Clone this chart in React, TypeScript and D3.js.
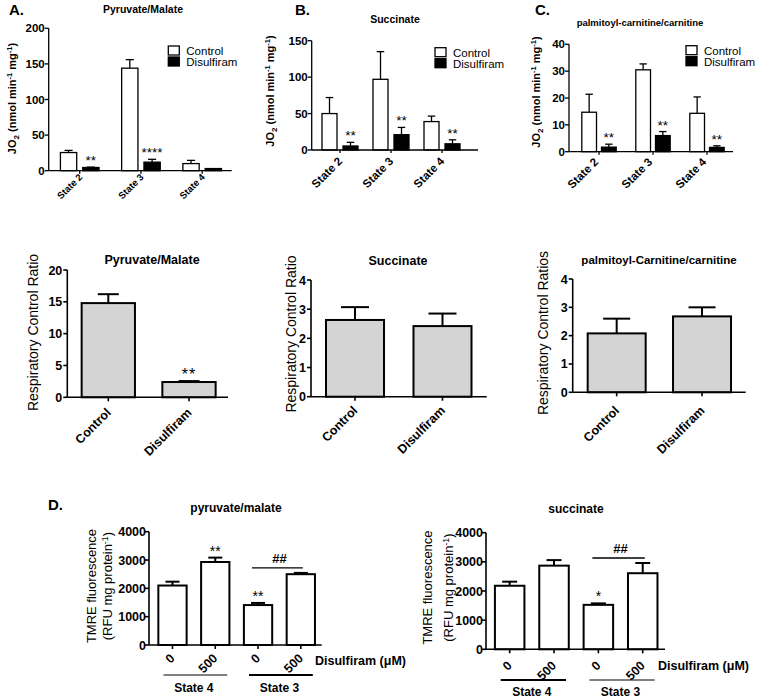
import React from "react";
import * as d3 from "d3";

const FONT = "'Liberation Sans', Arial, Helvetica, sans-serif";

// ---------- Row 1: JO2 by respiratory state ----------
const states = ["State 2", "State 3", "State 4"];
const seriesNames = ["Control", "Disulfiram"];

const pmCtrl = [25.5, 144, 10];
const pmCtrlErr = [3, 12, 4.5];
const pmDis = [4.5, 12, 3];
const pmDisErr = [0.5, 4, 0];
const pmSig = ["**", "****", ""];
const pmTicks = [0, 50, 100, 150, 200];

const sucCtrl = [50, 97, 39];
const sucCtrlErr = [22, 38, 7.5];
const sucDis = [5.5, 21, 8.5];
const sucDisErr = [5, 10, 5.5];
const sucSig = ["**", "**", "**"];
const sucTicks = [0, 50, 100, 150];

const palCtrl = [14.7, 30.5, 14.3];
const palCtrlErr = [6.7, 2.2, 6.1];
const palDis = [1.7, 6, 1.6];
const palDisErr = [1.1, 1.5, 0.6];
const palSig = ["**", "**", "**"];
const palTicks = [0, 10, 20, 30, 40];

// ---------- Row 2: respiratory control ratio ----------
const rcrGroups = ["Control", "Disulfiram"];
const rcrPM = [14.8, 2.4];
const rcrPMErr = [1.4, 0.15];
const rcrPMSig = ["", "**"];
const rcrPMTicks = [0, 5, 10, 15, 20];
const rcrSuc = [2.63, 2.42];
const rcrSucErr = [0.44, 0.43];
const rcrSucSig = ["", ""];
const rcrSucTicks = [0, 1, 2, 3, 4];
const rcrPal = [2.08, 2.68];
const rcrPalErr = [0.52, 0.32];
const rcrPalSig = ["", ""];
const rcrPalTicks = [0, 1, 2, 3, 4];

// ---------- Row 3: TMRE fluorescence ----------
const doseLabels = ["0", "500", "0", "500"];
const doseKeys = ["s4-0", "s4-500", "s3-0", "s3-500"];
const stateGroups = ["State 4", "State 3"];
const tmrePM = [2100, 2930, 1410, 2500];
const tmrePMErr = [135, 155, 75, 45];
const tmrePMSig = ["", "**", "**", ""];
const tmreSuc = [2180, 2870, 1525, 2610];
const tmreSucErr = [140, 190, 50, 350];
const tmreSucSig = ["", "", "*", ""];
const tmreTicks = [0, 1000, 2000, 3000, 4000];
const hashLabel = "##";

function JO2Label({ x, y }: any) {
  return (
    <text transform={`translate(${x},${y}) rotate(-90)`} textAnchor="middle" fontSize={11} fontWeight="bold" fontFamily={FONT}>
      JO<tspan fontSize={8} dy={3}>2</tspan>
      <tspan dy={-3}> (nmol min</tspan>
      <tspan fontSize={7.5} dy={-4}>-1</tspan>
      <tspan dy={4}> mg</tspan>
      <tspan fontSize={7.5} dy={-4}>-1</tspan>
      <tspan dy={4}>)</tspan>
    </text>
  );
}

function GroupedPanel(p: any) {
  const y = d3.scaleLinear().domain([0, p.yMax]).range([p.yBottom, p.yTop]);
  const xg = d3.scaleBand().domain(states).range(p.band).padding(0);
  const half = p.barW + p.gap / 2;
  const xs = d3.scaleBand().domain(seriesNames).range([-half, half]).paddingInner(p.gap / (p.barW + p.gap));
  const vals = [p.ctrl, p.dis];
  const errs = [p.ctrlErr, p.disErr];
  const sw = 1.3;
  return (
    <g fontFamily={FONT}>
      <text x={p.letterX} y={p.letterY} fontSize={15} fontWeight="bold">{p.letter}</text>
      <text x={p.titleX} y={p.titleY} fontSize={p.titleSize} fontWeight="bold" textAnchor="middle">{p.title}</text>
      <JO2Label x={p.ylabX} y={p.ylabY} />
      {states.map((s, i) => {
        const c = (xg(s) as number) + xg.bandwidth() / 2;
        return (
          <g key={s}>
            {seriesNames.map((sn, k) => {
              const bx = c + (xs(sn) as number);
              const v = vals[k][i];
              const e = errs[k][i];
              const cx = bx + p.barW / 2;
              return (
                <g key={sn}>
                  {e > 0 && (
                    <g stroke="#000" strokeWidth={sw}>
                      <line x1={cx} x2={cx} y1={y(v)} y2={y(v + e)} />
                      <line x1={cx - p.barW / 4} x2={cx + p.barW / 4} y1={y(v + e)} y2={y(v + e)} />
                    </g>
                  )}
                  <rect x={bx} y={y(v)} width={p.barW} height={y(0) - y(v)} fill={k === 0 ? "#fff" : "#000"} stroke="#000" strokeWidth={sw} />
                  {k === 1 && p.sig[i] && (
                    <text x={cx} y={y(v + e) - 2} fontSize={13.5} textAnchor="middle">{p.sig[i]}</text>
                  )}
                </g>
              );
            })}
            <line x1={c} x2={c} y1={p.yBottom} y2={p.yBottom + 3} stroke="#000" strokeWidth={sw} />
            <text transform={`translate(${c + p.xlDx},${p.yBottom + p.xlDy}) rotate(-45)`} textAnchor="end" fontSize={p.xlSize} fontWeight="bold">{s}</text>
          </g>
        );
      })}
      <line x1={p.x0} x2={p.x0} y1={p.yBottom} y2={p.yTop} stroke="#000" strokeWidth={sw} />
      <line x1={p.x0} x2={p.x1} y1={p.yBottom} y2={p.yBottom} stroke="#000" strokeWidth={sw} />
      {p.ticks.map((t: number) => (
        <g key={t}>
          <line x1={p.x0 - 4} x2={p.x0} y1={y(t)} y2={y(t)} stroke="#000" strokeWidth={sw} />
          <text x={p.x0 - 4} y={y(t)} dy="0.36em" textAnchor="end" fontSize={11.5} fontWeight="bold">{t}</text>
        </g>
      ))}
      {seriesNames.map((sn, k) => (
        <g key={sn}>
          <rect x={p.legX} y={p.legY + k * 11} width={11} height={9} fill={k === 0 ? "#fff" : "#000"} stroke="#000" strokeWidth={1.3} />
          <text x={p.legX + 18} y={p.legY + 9 + k * 11} fontSize={11.5}>{sn}</text>
        </g>
      ))}
    </g>
  );
}

function SimplePanel(p: any) {
  const y = d3.scaleLinear().domain([0, p.yMax]).range([p.yBottom, p.yTop]);
  const x = d3.scaleBand().domain(p.keys).range(p.band).padding(0);
  const sw = p.sw;
  const cx = (i: number) => (x(p.keys[i]) as number) + x.bandwidth() / 2;
  return (
    <g fontFamily={FONT}>
      {p.keys.map((key: string, i: number) => {
        const c = cx(i);
        const v = p.values[i];
        const e = p.errs[i];
        return (
          <g key={key}>
            <g stroke="#000" strokeWidth={sw}>
              <line x1={c} x2={c} y1={y(v)} y2={y(v + e)} />
              <line x1={c - p.capW / 2} x2={c + p.capW / 2} y1={y(v + e)} y2={y(v + e)} />
            </g>
            <rect x={c - p.barW / 2} y={y(v)} width={p.barW} height={y(0) - y(v)} fill={p.fill} stroke="#000" strokeWidth={sw} />
            {p.sig[i] && (
              <text x={c} y={y(v + e) + p.sigDy} fontSize={p.sigSize} textAnchor="middle" letterSpacing={p.sigLs}>{p.sig[i]}</text>
            )}
            <line x1={c} x2={c} y1={p.yBottom} y2={p.yBottom + 4} stroke="#000" strokeWidth={sw * 0.8} />
            <text transform={`translate(${c + p.xlDx},${p.yBottom + p.xlDy}) rotate(-45)`} textAnchor="end" fontSize={12.5} fontWeight="bold">{p.labels[i]}</text>
          </g>
        );
      })}
      <line x1={p.x0} x2={p.x0} y1={p.yBottom} y2={p.yTop} stroke="#000" strokeWidth={sw * 0.8} />
      <line x1={p.x0} x2={p.x1} y1={p.yBottom} y2={p.yBottom} stroke="#000" strokeWidth={sw * 0.8} />
      {p.ticks.map((t: number) => (
        <g key={t}>
          <line x1={p.x0 - 4} x2={p.x0} y1={y(t)} y2={y(t)} stroke="#000" strokeWidth={sw * 0.8} />
          <text x={p.x0 - p.tickGap} y={y(t)} dy="0.36em" textAnchor="end" fontSize={p.tickSize} fontWeight="bold">{t}</text>
        </g>
      ))}
      {p.extra && p.extra(x, y, cx)}
    </g>
  );
}

function RcrYLabel({ x, y, text }: any) {
  return (
    <text transform={`translate(${x},${y}) rotate(-90)`} textAnchor="middle" fontSize={14} fontFamily={FONT}>{text}</text>
  );
}

function TmreExtras(p: any) {
  return (x: any, y: any, cx: (i: number) => number) => {
    const hy = y(p.values[3] + p.errs[3]) - p.hashGap;
    return (
      <g fontFamily={FONT}>
        <line x1={cx(2) - 6} x2={cx(3) + 2} y1={hy} y2={hy} stroke="#000" strokeWidth={1.3} />
        <text x={(cx(2) + cx(3)) / 2} y={hy - 5} fontSize={13} fontWeight="bold" textAnchor="middle">{hashLabel}</text>
        {stateGroups.map((g, gi) => {
          const a = cx(gi * 2);
          const b = cx(gi * 2 + 1);
          return (
            <g key={g}>
              <line x1={a - 9} x2={b + 12} y1={p.grpLineY} y2={p.grpLineY} stroke="#000" strokeWidth={p.grpW[gi]} />
              <text x={(a + b) / 2} y={p.grpTextY} fontSize={12} fontWeight="bold" textAnchor="middle">{g}</text>
            </g>
          );
        })}
        <text x={p.disX} y={p.disY} fontSize={12.5} fontWeight="bold">Disulfiram (μM)</text>
      </g>
    );
  };
}

export default function App() {
  return (
    <svg width={760} height={700} style={{ position: "absolute", left: 0, top: 0, background: "#fff" }}>
      <rect width={760} height={700} fill="#fff" />
      <GroupedPanel letter="A." letterX={9} letterY={15} title="Pyruvate/Malate" titleX={143} titleY={12.5} titleSize={10.5}
        ylabX={16} ylabY={98.5} x0={48.7} x1={231.7} yTop={28.3} yBottom={170.7} yMax={200} ticks={pmTicks}
        band={[49.1, 232.8]} barW={16.3} gap={6} ctrl={pmCtrl} ctrlErr={pmCtrlErr} dis={pmDis} disErr={pmDisErr} sig={pmSig}
        xlDx={3.3} xlDy={7} xlSize={9.5} legX={168.3} legY={46} />
      <GroupedPanel letter="B." letterX={295} letterY={15} title="Succinate" titleX={395} titleY={23} titleSize={10.5}
        ylabX={274} ylabY={91} x0={311.7} x1={478} yTop={40.7} yBottom={150} yMax={150} ticks={sucTicks}
        band={[314.5, 467.5]} barW={15} gap={6} ctrl={sucCtrl} ctrlErr={sucCtrlErr} dis={sucDis} disErr={sucDisErr} sig={sucSig}
        xlDx={3} xlDy={12} xlSize={11.5} legX={435} legY={47.7} />
      <GroupedPanel letter="C." letterX={535} letterY={15} title="palmitoyl-carnitine/carnitine" titleX={640} titleY={25.5} titleSize={9.5}
        ylabX={540} ylabY={92} x0={569} x1={733} yTop={44.3} yBottom={151.7} yMax={40} ticks={palTicks}
        band={[572, 734]} barW={14.7} gap={5} ctrl={palCtrl} ctrlErr={palCtrlErr} dis={palDis} disErr={palDisErr} sig={palSig}
        xlDx={0} xlDy={11} xlSize={11.5} legX={686} legY={45.7} />

      {/* Row 2 */}
      <text x={152} y={264} fontSize={12.5} fontWeight="bold" textAnchor="middle" fontFamily={FONT}>Pyruvate/Malate</text>
      <RcrYLabel x={38} y={332.5} text="Respiratory Control Ratio" />
      <SimplePanel keys={rcrGroups} labels={rcrGroups} values={rcrPM} errs={rcrPMErr} sig={rcrPMSig} ticks={rcrPMTicks}
        yMax={20} yTop={270} yBottom={397.3} x0={67.3} x1={228} band={[67.95, 229.35]} barW={53.3} capW={21}
        fill="#d4d4d4" sw={2} sigDy={-1} sigSize={16} sigLs={1} tickSize={12.5} tickGap={5} xlDx={3.4} xlDy={16} />
      <text x={398} y={265} fontSize={12.5} fontWeight="bold" textAnchor="middle" fontFamily={FONT}>Succinate</text>
      <RcrYLabel x={296} y={334} text="Respiratory Control Ratio" />
      <SimplePanel keys={rcrGroups} labels={rcrGroups} values={rcrSuc} errs={rcrSucErr} sig={rcrSucSig} ticks={rcrSucTicks}
        yMax={4} yTop={280} yBottom={396.7} x0={311} x1={486.7} band={[311.25, 486.25]} barW={58} capW={28}
        fill="#d4d4d4" sw={2} sigDy={-1} sigSize={16} sigLs={1} tickSize={12.5} tickGap={5} xlDx={3.3} xlDy={14.5} />
      <text x={659} y={264} fontSize={11.5} fontWeight="bold" textAnchor="middle" fontFamily={FONT}>palmitoyl-Carnitine/carnitine</text>
      <RcrYLabel x={548} y={333} text="Respiratory Control Ratios" />
      <SimplePanel keys={rcrGroups} labels={rcrGroups} values={rcrPal} errs={rcrPalErr} sig={rcrPalSig} ticks={rcrPalTicks}
        yMax={4} yTop={279} yBottom={392.3} x0={572.7} x1={745.7} band={[574, 744.7]} barW={58} capW={27}
        fill="#d4d4d4" sw={2} sigDy={-1} sigSize={16} sigLs={1} tickSize={12.5} tickGap={5} xlDx={3.3} xlDy={19} />

      {/* Row 3 */}
      <text x={48} y={510} fontSize={15} fontWeight="bold" fontFamily={FONT}>D.</text>
      <text x={236} y={512} fontSize={12} fontWeight="bold" textAnchor="middle" fontFamily={FONT}>pyruvate/malate</text>
      <text transform="translate(96,586) rotate(-90)" textAnchor="middle" fontSize={13} fontFamily={FONT}>TMRE fluorescence</text>
      <text transform="translate(112,586) rotate(-90)" textAnchor="middle" fontSize={13} fontFamily={FONT}>
        (RFU mg protein<tspan fontSize={9} dy={-4}>-1</tspan><tspan dy={4}>)</tspan>
      </text>
      <SimplePanel keys={doseKeys} labels={doseLabels} values={tmrePM} errs={tmrePMErr} sig={tmrePMSig} ticks={tmreTicks}
        yMax={4000} yTop={531.7} yBottom={645} x0={149} x1={321.7} band={[151.1, 322.2]} barW={28.3} capW={14}
        fill="#fff" sw={2} sigDy={-2} sigSize={14} sigLs={0} tickSize={12.5} tickGap={3} xlDx={3} xlDy={14}
        extra={TmreExtras({ values: tmrePM, errs: tmrePMErr, hashGap: 5, grpLineY: 675, grpTextY: 692, grpW: [1, 2], disX: 315, disY: 665 })} />

      <text x={576} y={513} fontSize={12} fontWeight="bold" textAnchor="middle" fontFamily={FONT}>succinate</text>
      <text transform="translate(432,587.5) rotate(-90)" textAnchor="middle" fontSize={13} fontFamily={FONT}>TMRE fluorescence</text>
      <text transform="translate(453,587.5) rotate(-90)" textAnchor="middle" fontSize={13} fontFamily={FONT}>
        (RFU mg protein<tspan fontSize={9} dy={-4}>-1</tspan><tspan dy={4}>)</tspan>
      </text>
      <SimplePanel keys={doseKeys} labels={doseLabels} values={tmreSuc} errs={tmreSucErr} sig={tmreSucSig} ticks={tmreTicks}
        yMax={4000} yTop={532.7} yBottom={649.3} x0={486} x1={665} band={[487.5, 664.9]} barW={29.5} capW={15}
        fill="#fff" sw={2} sigDy={-2} sigSize={14} sigLs={0} tickSize={12.5} tickGap={3} xlDx={3} xlDy={17}
        extra={TmreExtras({ values: tmreSuc, errs: tmreSucErr, hashGap: 5, grpLineY: 680, grpTextY: 696, grpW: [2, 1], disX: 658, disY: 670 })} />
    </svg>
  );
}
